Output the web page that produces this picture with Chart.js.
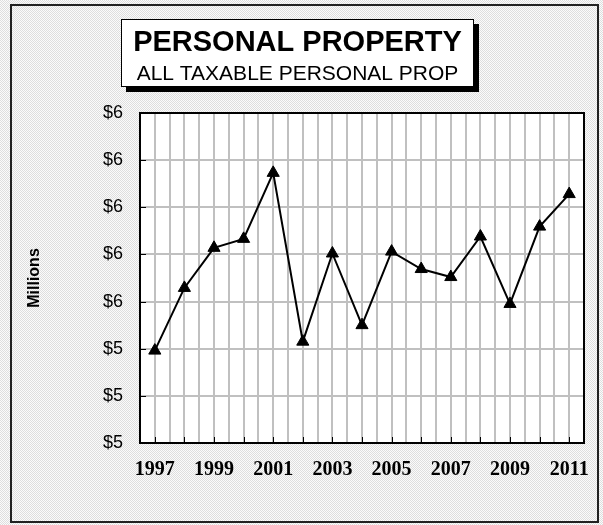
<!DOCTYPE html>
<html>
<head>
<meta charset="utf-8">
<script src="https://cdn.jsdelivr.net/npm/chart.js@4"></script>
<style>
  html, body { margin: 0; padding: 0; background: #fff; }
  #wrap { width: 603px; height: 525px; }
</style>
</head>
<body>
<div id="wrap"><canvas id="chart" width="603" height="525"></canvas></div>
<script>
const years = [1997, 1998, 1999, 2000, 2001, 2002, 2003, 2004, 2005, 2006, 2007, 2008, 2009, 2010, 2011];
const values = [5.396, 5.529, 5.614, 5.633, 5.773, 5.415, 5.602, 5.450, 5.606, 5.569, 5.552, 5.638, 5.495, 5.659, 5.728];
const xTickLabels = ['1997', '1999', '2001', '2003', '2005', '2007', '2009', '2011'];
const yTickLabels = ['$5', '$5', '$5', '$6', '$6', '$6', '$6', '$6'];
const titleText = 'PERSONAL PROPERTY';
const subtitleText = 'ALL TAXABLE PERSONAL PROP';
const yAxisTitle = 'Millions';

// dithered grey backdrop like the original
function makePattern(ctx) {
  const c = document.createElement('canvas');
  c.width = 2;
  c.height = 2;
  const p = c.getContext('2d');
  p.fillStyle = '#fbfbfb';
  p.fillRect(0, 0, 2, 2);
  p.fillStyle = '#dedede';
  p.fillRect(0, 0, 1, 1);
  p.fillRect(1, 1, 1, 1);
  return ctx.createPattern(c, 'repeat');
}

const decor = {
  id: 'decor',
  beforeDraw(chart) {
    const { ctx, chartArea: a } = chart;
    ctx.save();
    ctx.fillStyle = makePattern(ctx);
    ctx.fillRect(0, 0, chart.width, chart.height);
    ctx.strokeStyle = '#222';
    ctx.lineWidth = 2;
    ctx.strokeRect(11, 5, 587, 517);
    ctx.fillStyle = '#fff';
    ctx.fillRect(a.left, a.top, a.right - a.left, a.bottom - a.top);
    ctx.restore();
  },
  afterDraw(chart) {
    const { ctx, chartArea: a, scales } = chart;
    ctx.save();
    // plot frame
    ctx.strokeStyle = '#000';
    ctx.lineWidth = 2;
    ctx.strokeRect(a.left, a.top, a.right - a.left, a.bottom - a.top);

    // inner tick marks
    ctx.lineWidth = 1;
    ctx.beginPath();
    years.forEach((yr) => {
      const x = Math.round(scales.x.getPixelForValue(yr)) + 0.5;
      ctx.moveTo(x, a.bottom);
      ctx.lineTo(x, a.bottom - 6);
    });
    scales.y.ticks.forEach((t) => {
      const y = Math.round(scales.y.getPixelForValue(t.value)) + 0.5;
      ctx.moveTo(a.left, y);
      ctx.lineTo(a.left + 6, y);
    });
    ctx.stroke();

    // title box with drop shadow
    const bx = 121, by = 19, bw = 353, bh = 68;
    ctx.fillStyle = '#000';
    ctx.fillRect(bx + 5, by + 5, bw, bh);
    ctx.fillStyle = '#fff';
    ctx.fillRect(bx, by, bw, bh);
    ctx.lineWidth = 1;
    ctx.strokeRect(bx + 0.5, by + 0.5, bw - 1, bh - 1);
    ctx.fillStyle = '#000';
    ctx.textAlign = 'center';
    ctx.textBaseline = 'alphabetic';
    ctx.font = 'bold 29px "Liberation Sans", Arial, sans-serif';
    ctx.fillText(titleText, bx + bw / 2, by + 32);
    ctx.font = '21px "Liberation Sans", Arial, sans-serif';
    ctx.fillText(subtitleText, bx + bw / 2, by + 61);
    ctx.restore();
  }
};

const ctx = document.getElementById('chart').getContext('2d');

new Chart(ctx, {
  type: 'line',
  data: {
    datasets: [
      {
        data: years.map((yr, i) => ({ x: yr, y: values[i] })),
        borderColor: '#000',
        borderWidth: 2,
        pointStyle: 'triangle',
        pointRadius: 7,
        pointBackgroundColor: '#000',
        pointBorderColor: '#000',
        pointBorderWidth: 1,
        tension: 0,
      },
    ],
  },
  options: {
    responsive: false,
    animation: false,
    layout: {
      padding: { left: 0, right: 19, top: 113, bottom: 0 },
    },
    plugins: {
      legend: { display: false },
      tooltip: { enabled: false },
    },
    scales: {
      x: {
        type: 'linear',
        min: 1996.5,
        max: 2011.5,
        afterFit(scale) {
          scale.height = 82;
        },
        grid: {
          color: '#c0c0c0',
          lineWidth: 2,
          drawTicks: false,
        },
        border: { display: false },
        ticks: {
          stepSize: 0.5,
          autoSkip: false,
          maxRotation: 0,
          padding: 15,
          color: '#000',
          font: { family: '"Liberation Serif", "Times New Roman", serif', size: 20, weight: 'bold' },
          callback(value) {
            const label = String(value);
            return xTickLabels.includes(label) ? label : '';
          },
        },
      },
      y: {
        min: 5.2,
        max: 5.9,
        afterFit(scale) {
          scale.width = 140;
        },
        grid: {
          color: '#c0c0c0',
          lineWidth: 2,
          drawTicks: false,
        },
        border: { display: false },
        title: {
          display: true,
          text: yAxisTitle,
          color: '#000',
          padding: { top: 25, bottom: 0 },
          font: { family: '"Liberation Sans", Arial, sans-serif', size: 16, weight: 'bold' },
        },
        ticks: {
          stepSize: 0.1,
          padding: 17,
          color: '#000',
          font: { family: '"Liberation Sans", Arial, sans-serif', size: 18 },
          callback(value, index) {
            return yTickLabels[index];
          },
        },
      },
    },
  },
  plugins: [decor],
});
</script>
</body>
</html>
